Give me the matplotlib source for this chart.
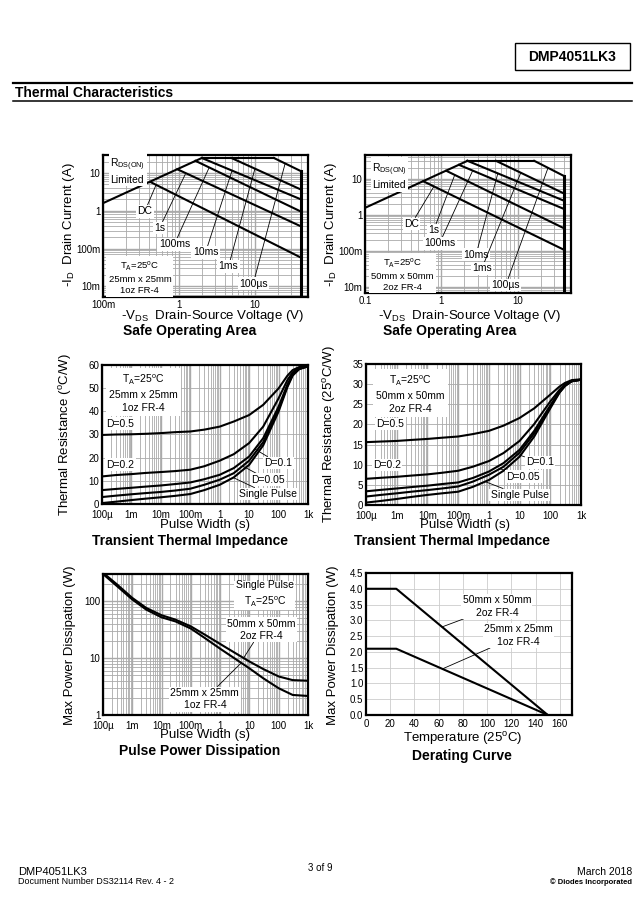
import numpy as np
import matplotlib.pyplot as plt
from matplotlib.patches import Rectangle
from matplotlib.lines import Line2D
from matplotlib.ticker import FixedLocator, FixedFormatter, LogLocator, NullFormatter, MultipleLocator

plt.rcParams['font.family'] = ['Liberation Sans', 'DejaVu Sans']
plt.rcParams['mathtext.fontset'] = 'custom'
plt.rcParams['mathtext.rm'] = 'Liberation Sans'
plt.rcParams['mathtext.it'] = 'Liberation Sans:italic'
plt.rcParams['mathtext.bf'] = 'Liberation Sans:bold'
plt.rcParams['axes.linewidth'] = 1.5

# ================= DATA =================
# Safe operating area, 25mm x 25mm 1oz board
soa_names = ['DC', '1s', '100ms', '10ms', '1ms', '100µs']
soa_vmax = 40
soa1_rds_v = [0.1, 2.0]
soa1_rds_i = [1.59, 25.0]
soa1_v_knee = [0.42, 0.95, 1.65, 2.0, 4.9, 17.8]
soa1_i_knee = [5.8, 12.6, 21.0, 25.0, 25.0, 25.0]
soa1_i_vmax = [0.058, 0.39, 0.96, 2.02, 3.68, 11.3]

# Safe operating area, 50mm x 50mm 2oz board
soa2_rds_v = [0.1, 2.2]
soa2_rds_i = [1.53, 31.0]
soa2_v_knee = [0.58, 1.16, 1.71, 2.2, 5.2, 16.5]
soa2_i_knee = [8.4, 16.4, 23.9, 31.0, 31.0, 31.0]
soa2_i_vmax = [0.106, 0.42, 1.44, 2.44, 3.88, 11.9]

# Transient thermal impedance
pulse_t = [1e-4, 3e-4, 1e-3, 3e-3, 1e-2, 3e-2, 0.1, 0.3, 1, 3, 10, 30, 100, 200, 300, 500, 1000]
duty_names = ['D=0.5', 'D=0.2', 'D=0.1', 'D=0.05', 'Single Pulse']
tz1_d05 = [29.8, 30.0, 30.1, 30.3, 30.6, 31.0, 31.3, 32.1, 33.4, 35.6, 38.4, 42.8, 49.9, 55.4, 57.8, 59.1, 59.4]
tz1_d02 = [11.9, 12.5, 12.9, 13.4, 13.8, 14.2, 14.8, 16.3, 18.7, 21.5, 26.3, 33.4, 45.6, 53.5, 56.8, 58.8, 59.4]
tz1_d01 = [6.0, 6.5, 7.0, 7.5, 8.0, 8.6, 9.3, 10.7, 12.6, 15.5, 20.5, 28.4, 42.0, 51.6, 56.0, 58.5, 59.4]
tz1_d005 = [3.0, 3.6, 4.2, 4.7, 5.2, 5.8, 6.6, 8.3, 10.5, 13.3, 18.7, 26.7, 40.9, 51.0, 55.7, 58.3, 59.4]
tz1_single = [0.4, 1.0, 1.7, 2.3, 2.9, 3.5, 4.3, 6.0, 8.3, 11.5, 16.9, 25.3, 39.9, 50.5, 55.4, 58.2, 59.4]
tz2_d05 = [15.6, 15.75, 15.9, 16.15, 16.4, 16.7, 17.0, 17.6, 18.4, 19.7, 21.6, 24.0, 27.4, 29.4, 30.3, 31.0, 31.2]
tz2_d02 = [6.5, 6.75, 7.0, 7.3, 7.6, 8.0, 8.5, 9.5, 10.9, 12.9, 15.9, 20.1, 25.7, 28.6, 29.9, 30.8, 31.1]
tz2_d01 = [3.4, 3.75, 4.1, 4.45, 4.8, 5.2, 5.6, 6.7, 8.3, 10.4, 13.7, 18.4, 24.7, 28.2, 29.7, 30.7, 31.1]
tz2_d005 = [2.1, 2.5, 2.9, 3.3, 3.7, 4.1, 4.6, 5.8, 7.5, 9.5, 13.0, 17.8, 24.4, 28.0, 29.6, 30.7, 31.1]
tz2_single = [0.6, 1.0, 1.5, 2.0, 2.5, 2.9, 3.3, 4.5, 6.2, 8.5, 12.0, 17.0, 24.0, 27.9, 29.5, 30.8, 31.1]

# Pulse power dissipation
ppd_t = [1e-4, 3e-4, 1e-3, 3e-3, 1e-2, 3e-2, 0.1, 0.3, 1, 3, 10, 30, 100, 300, 1000]
ppd_50mm = [316, 197, 114, 76, 56.6, 47.3, 36, 25.8, 17.7, 12.6, 8.7, 6.4, 4.75, 4.1, 4.0]
ppd_25mm = [300, 184, 107, 71, 52, 44, 33, 22.5, 14.6, 10.0, 6.6, 4.4, 2.95, 2.25, 2.16]

# Derating
derate_temp = [0, 25, 150]
derate_50mm = [4.0, 4.0, 0.0]
derate_25mm = [2.1, 2.1, 0.0]

time_ticks = [1e-4, 1e-3, 1e-2, 0.1, 1, 10, 100, 1000]
time_labels = ['100µ', '1m', '10m', '100m', '1', '10', '100', '1k']

# ================= LAYOUT HELPERS =================
W, H = 637, 902
fig = plt.figure(figsize=(W / 100, H / 100), dpi=100)
LW = 1.5
TICK_FS = 7
ANN_FS = 7.5
LAB_FS = 9.5
GRID = '#aaaaaa'


def px_axes(x0, y0, x1, y1):
    return fig.add_axes([x0 / W, 1 - y1 / H, (x1 - x0) / W, (y1 - y0) / H])


def ftext(x, y, s, **kw):
    fig.text(x / W, 1 - y / H, s, **kw)


white = dict(facecolor='white', edgecolor='none', pad=1.0)
leader = dict(arrowstyle='-', lw=0.6, color='black', shrinkA=0, shrinkB=0)


def style(ax, xpad=2):
    ax.tick_params(which='both', length=0, labelsize=TICK_FS, pad=2)
    ax.tick_params(axis='x', pad=xpad)
    for s in ax.spines.values():
        s.set_linewidth(1.6)
    ax.set_axisbelow(True)


def log_time_axis(ax):
    ax.set_xscale('log')
    ax.set_xlim(1e-4, 1e3)
    ax.xaxis.set_major_locator(FixedLocator(time_ticks))
    ax.xaxis.set_major_formatter(FixedFormatter(time_labels))
    ax.xaxis.set_minor_locator(LogLocator(base=10, subs=np.arange(2, 10), numticks=20))
    ax.xaxis.set_minor_formatter(NullFormatter())


def soa_plot(ax, rds_v, rds_i, v_knee, i_knee, i_vmax, xlab, ylim):
    ax.set_xscale('log')
    ax.set_yscale('log')
    ax.set_xlim(0.1, 50)
    ax.set_ylim(*ylim)
    ax.plot(rds_v, rds_i, 'k', lw=LW)
    ax.plot([v_knee[3], v_knee[5]], [i_knee[3], i_knee[5]], 'k', lw=LW)
    for vk, ik, ie in zip(v_knee, i_knee, i_vmax):
        ax.plot([vk, soa_vmax], [ik, ie], 'k', lw=LW)
    ax.plot([soa_vmax, soa_vmax], [i_vmax[-1], ylim[0]], 'k', lw=2.2)
    ax.xaxis.set_major_locator(FixedLocator([0.1, 1, 10]))
    ax.xaxis.set_major_formatter(FixedFormatter(xlab))
    ax.yaxis.set_major_locator(FixedLocator([0.01, 0.1, 1, 10]))
    ax.yaxis.set_major_formatter(FixedFormatter(['10m', '100m', '1', '10']))
    for a in (ax.xaxis, ax.yaxis):
        a.set_minor_locator(LogLocator(base=10, subs=np.arange(2, 10), numticks=20))
        a.set_minor_formatter(NullFormatter())
    ax.grid(which='major', color=GRID, lw=1.0)
    ax.grid(which='minor', color=GRID, lw=0.6)
    style(ax)


# ================= HEADER =================
fig.add_artist(Rectangle((515 / W, 1 - 70 / H), 115 / W, 27 / H, transform=fig.transFigure,
                         facecolor='white', edgecolor='black', lw=1.0))
ftext(572, 57, 'DMP4051LK3', ha='center', va='center', fontsize=10, fontweight='bold')
fig.add_artist(Line2D([13 / W, 632 / W], [1 - 83 / H, 1 - 83 / H], color='black', lw=1.6))
fig.add_artist(Line2D([13 / W, 632 / W], [1 - 101 / H, 1 - 101 / H], color='black', lw=1.1))
ftext(15, 93, 'Thermal Characteristics', ha='left', va='center', fontsize=10, fontweight='bold')

# ================= SOA 25mm x 25mm =================
ax1 = px_axes(103, 155, 308, 297)
soa_plot(ax1, soa1_rds_v, soa1_rds_i, soa1_v_knee, soa1_i_knee, soa1_i_vmax,
         ['100m', '1', '10'], (0.0052, 30))
ax1.text(0.125, 11.5, 'R$_{\\rm DS(ON)}$\nLimited', fontsize=ANN_FS, ha='left', va='center',
         linespacing=1.3, bbox=white)
ax1.text(0.306, 0.0175, 'T$_{\\rm A}$=25$^{\\rm o}$C\n25mm x 25mm\n1oz FR-4', fontsize=6.8,
         ha='center', va='center', linespacing=1.25, clip_on=True,
         bbox=dict(facecolor='white', edgecolor='none', pad=1.5))
soa1_txt = [(0.355, 0.96), (0.556, 0.35), (0.87, 0.13), (2.24, 0.079), (4.5, 0.034), (9.5, 0.0117)]
soa1_tip = [(0.5, 4.87), (1.23, 9.9), (2.5, 14.0), (5.0, 11.6), (10, 13.0), (25, 17.9)]
for name, xt, xy in zip(soa_names, soa1_txt, soa1_tip):
    ax1.annotate(name, xy=xy, xytext=xt, fontsize=ANN_FS, ha='center', va='center',
                 bbox=white, arrowprops=leader)
ftext(69, 225, '-I$_{\\rm D}$  Drain Current (A)', rotation=90, ha='center', va='center', fontsize=LAB_FS)
ftext(213, 316, '-V$_{\\rm DS}$  Drain-Source Voltage (V)', ha='center', va='center', fontsize=LAB_FS)
ftext(190, 331, 'Safe Operating Area', ha='center', va='center', fontsize=10, fontweight='bold')

# ================= SOA 50mm x 50mm =================
ax2 = px_axes(365, 155, 571, 293)
soa_plot(ax2, soa2_rds_v, soa2_rds_i, soa2_v_knee, soa2_i_knee, soa2_i_vmax,
         ['0.1', '1', '10'], (0.0066, 45))
ax2.text(0.123, 11.7, 'R$_{\\rm DS(ON)}$\nLimited', fontsize=ANN_FS, ha='left', va='center',
         linespacing=1.3, bbox=white)
ax2.text(0.308, 0.022, 'T$_{\\rm A}$=25$^{\\rm o}$C\n50mm x 50mm\n2oz FR-4', fontsize=6.8,
         ha='center', va='center', linespacing=1.25, clip_on=True,
         bbox=dict(facecolor='white', edgecolor='none', pad=1.5))
soa2_txt = [(0.406, 0.55), (0.79, 0.36), (0.95, 0.16), (2.85, 0.077), (3.4, 0.032), (7.0, 0.011)]
soa2_tip = [(0.8, 6.0), (1.5, 12.6), (2.58, 16.7), (5.5, 13.9), (11, 14.5), (25, 19.8)]
for name, xt, xy in zip(soa_names, soa2_txt, soa2_tip):
    ax2.annotate(name, xy=xy, xytext=xt, fontsize=ANN_FS, ha='center', va='center',
                 bbox=white, arrowprops=leader)
ftext(331, 225, '-I$_{\\rm D}$  Drain Current (A)', rotation=90, ha='center', va='center', fontsize=LAB_FS)
ftext(470, 316, '-V$_{\\rm DS}$  Drain-Source Voltage (V)', ha='center', va='center', fontsize=LAB_FS)
ftext(450, 331, 'Safe Operating Area', ha='center', va='center', fontsize=10, fontweight='bold')

# ================= TRANSIENT THERMAL IMPEDANCE =================
for axbox, series, ylim, ystep, boxtxt, box_xy, dlab, dtip, ylab, xlab_x, title_x, ylab_x in [
    ((102, 365, 308, 504), [tz1_d05, tz1_d02, tz1_d01, tz1_d005, tz1_single], 60, 10,
     'T$_{\\rm A}$=25$^{\\rm o}$C\n25mm x 25mm\n1oz FR-4', (0.0026, 47.9),
     [(4.2e-4, 34.6), (4.2e-4, 16.9), (97, 17.7), (44, 10.5), (44, 4.3)],
     [None, None, (15.7, 23.7), (6, 16.4), (2.9, 11.4)],
     'Thermal Resistance ($^{\\rm o}$C/W)', 205, 190, 66),
    ((366, 364, 581, 505), [tz2_d05, tz2_d02, tz2_d01, tz2_d005, tz2_single], 35, 5,
     'T$_{\\rm A}$=25$^{\\rm o}$C\n50mm x 50mm\n2oz FR-4', (0.0028, 27.6),
     [(6.2e-4, 20.1), (4.8e-4, 9.95), (46, 10.6), (13.3, 7.0), (10.0, 2.5)],
     [None, None, (7.1, 12.8), (2.3, 9.0), (0.76, 5.8)],
     'Thermal Resistance (25$^{\\rm o}$C/W)', 465, 452, 330)]:
    ax = px_axes(*axbox)
    log_time_axis(ax)
    ax.set_ylim(0, ylim)
    ax.yaxis.set_major_locator(MultipleLocator(ystep))
    for s in series:
        ax.plot(pulse_t, s, 'k', lw=LW)
    ax.grid(axis='x', which='major', color=GRID, lw=1.0)
    ax.grid(axis='x', which='minor', color=GRID, lw=0.6)
    ax.grid(axis='y', which='major', color=GRID, lw=0.6)
    style(ax, xpad=4)
    ax.text(*box_xy, boxtxt, fontsize=7.5, ha='center', va='center', linespacing=1.4,
            bbox=dict(facecolor='white', edgecolor='none', pad=2))
    for name, xt, xy in zip(duty_names, dlab, dtip):
        if xy is None:
            ax.text(*xt, name, fontsize=ANN_FS, ha='center', va='center', bbox=white)
        else:
            ax.annotate(name, xy=xy, xytext=xt, fontsize=ANN_FS, ha='center', va='center',
                        bbox=white, arrowprops=leader)
    ftext(ylab_x, (axbox[1] + axbox[3]) / 2, ylab, rotation=90, ha='center', va='center', fontsize=LAB_FS)
    ftext(xlab_x, 525, 'Pulse Width (s)', ha='center', va='center', fontsize=LAB_FS)
    ftext(title_x, 541, 'Transient Thermal Impedance', ha='center', va='center', fontsize=10,
          fontweight='bold')

# ================= PULSE POWER DISSIPATION =================
ax5 = px_axes(103, 574, 308, 715)
log_time_axis(ax5)
ax5.set_yscale('log')
ax5.set_ylim(1, 300)
ax5.yaxis.set_major_locator(FixedLocator([1, 10, 100]))
ax5.yaxis.set_major_formatter(FixedFormatter(['1', '10', '100']))
ax5.yaxis.set_minor_locator(LogLocator(base=10, subs=np.arange(2, 10), numticks=20))
ax5.yaxis.set_minor_formatter(NullFormatter())
ax5.plot(ppd_t, ppd_50mm, 'k', lw=LW)
ax5.plot(ppd_t, ppd_25mm, 'k', lw=LW)
ax5.grid(which='major', color=GRID, lw=1.0)
ax5.grid(which='minor', color=GRID, lw=0.6)
style(ax5, xpad=4)
ax5.text(33.6, 130, 'Single Pulse\nT$_{\\rm A}$=25$^{\\rm o}$C', fontsize=7.5, ha='center', va='center',
         linespacing=1.4, bbox=white)
ax5.annotate('50mm x 50mm\n2oz FR-4', xy=(6.3, 10.0), xytext=(26, 31.5), fontsize=7.5, ha='center',
             va='center', linespacing=1.3, bbox=white, arrowprops=leader)
ax5.annotate('25mm x 25mm\n1oz FR-4', xy=(5.2, 8.2), xytext=(0.30, 1.9), fontsize=7.5, ha='center',
             va='center', linespacing=1.3, bbox=white, arrowprops=leader)
ftext(70, 645, 'Max Power Dissipation (W)', rotation=90, ha='center', va='center', fontsize=LAB_FS)
ftext(205, 735, 'Pulse Width (s)', ha='center', va='center', fontsize=LAB_FS)
ftext(200, 751, 'Pulse Power Dissipation', ha='center', va='center', fontsize=10, fontweight='bold')

# ================= DERATING CURVE =================
ax6 = px_axes(366, 573, 572, 715)
ax6.set_xlim(0, 170)
ax6.set_ylim(0, 4.5)
ax6.xaxis.set_major_locator(MultipleLocator(20))
ax6.yaxis.set_major_locator(MultipleLocator(0.5))
ax6.yaxis.set_major_formatter(plt.FormatStrFormatter('%.1f'))
ax6.plot(derate_temp, derate_50mm, 'k', lw=LW)
ax6.plot(derate_temp, derate_25mm, 'k', lw=LW)
ax6.grid(which='major', color='#cccccc', lw=0.6)
style(ax6, xpad=3)
ax6.annotate('50mm x 50mm\n2oz FR-4', xy=(62.7, 2.79), xytext=(108, 3.44), fontsize=7.5, ha='center',
             va='center', linespacing=1.3, bbox=white, arrowprops=leader)
ax6.annotate('25mm x 25mm\n1oz FR-4', xy=(63, 1.46), xytext=(126, 2.52), fontsize=7.5, ha='center',
             va='center', linespacing=1.3, bbox=white, arrowprops=leader)
ftext(333, 645, 'Max Power Dissipation (W)', rotation=90, ha='center', va='center', fontsize=LAB_FS)
ftext(463, 738, 'Temperature (25$^{\\rm o}$C)', ha='center', va='center', fontsize=LAB_FS)
ftext(462, 756, 'Derating Curve', ha='center', va='center', fontsize=10, fontweight='bold')

# ================= FOOTER =================
ftext(18, 872, 'DMP4051LK3', ha='left', va='center', fontsize=8)
ftext(18, 882, 'Document Number DS32114 Rev. 4 - 2', ha='left', va='center', fontsize=6.5)
ftext(320, 868, '3 of 9', ha='center', va='center', fontsize=7)
ftext(632, 872, 'March 2018', ha='right', va='center', fontsize=7.5)
ftext(632, 882, '© Diodes Incorporated', ha='right', va='center', fontsize=5.5, fontweight='bold')

fig.savefig('out.png', dpi=100)
